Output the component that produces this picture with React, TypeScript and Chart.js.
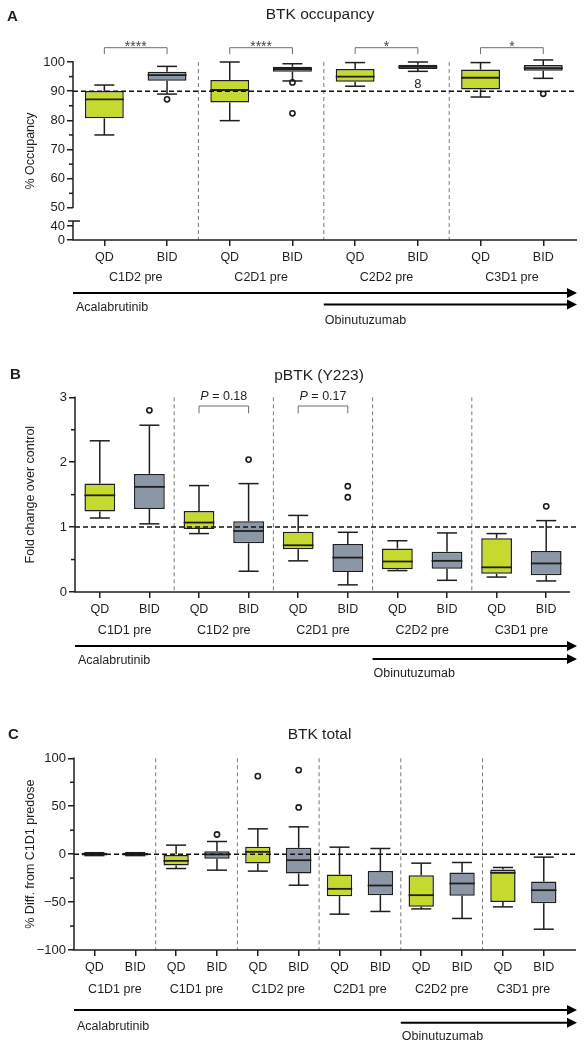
import React, { useEffect, useRef } from "react";
import { Chart, registerables } from "chart.js";

Chart.register(...registerables);

const FONT = "'Liberation Sans', Arial, Helvetica, sans-serif";
const GREEN = "#c6d92e";
const GRAY = "#8b96a6";
const INK = "#1e1e1e";
const W = 584;

// ---------- Panel A : BTK occupancy ----------
const A_LABELS = ["QD", "BID", "QD", "BID", "QD", "BID", "QD", "BID"];
const A_GROUPS = ["C1D2 pre", "C2D1 pre", "C2D2 pre", "C3D1 pre"];
const A_MIN = [75, 89.0, 79.9, 93.5, 91.7, 96.8, 88.0, 94.4];
const A_Q1 = [80.7, 93.6, 86.1, 96.7, 93.2, 97.6, 90.6, 97.0];
const A_MED = [87.2, 95.5, 90.4, 97.6, 95.0, 98.3, 94.6, 97.9];
const A_Q3 = [90.1, 96.7, 93.8, 98.4, 97.6, 99.1, 97.4, 99.0];
const A_MAX = [92.1, 98.5, 100, 99.4, 99.8, 100, 99.8, 100.7];
const A_OUTLIERS = [
  { x: 1, y: 87.2 },
  { x: 3, y: 93.0 },
  { x: 3, y: 82.4 },
  { x: 7, y: 89.1 },
];
const A_MARKS = [{ x: 5, y: 92.2, text: "8" }];
const A_TICK_VALUES = [39, 43.8, 50, 60, 70, 80, 90, 100];
const A_TICK_LABELS = ["0", "40", "50", "60", "70", "80", "90", "100"];
const A_MINOR = [55, 65, 75, 85, 95];
const A_BRACKETS = [
  { i: 0, j: 1, text: "****" },
  { i: 2, j: 3, text: "****" },
  { i: 4, j: 5, text: "*" },
  { i: 6, j: 7, text: "*" },
];

// ---------- Panel B : pBTK (Y223) ----------
const B_LABELS = ["QD", "BID", "QD", "BID", "QD", "BID", "QD", "BID", "QD", "BID"];
const B_GROUPS = ["C1D1 pre", "C1D2 pre", "C2D1 pre", "C2D2 pre", "C3D1 pre"];
const B_MIN = [1.14, 1.05, 0.9, 0.32, 0.48, 0.11, 0.33, 0.18, 0.23, 0.17];
const B_Q1 = [1.24, 1.28, 0.97, 0.75, 0.66, 0.31, 0.35, 0.36, 0.28, 0.26];
const B_MED = [1.49, 1.62, 1.07, 0.94, 0.72, 0.53, 0.47, 0.48, 0.38, 0.44];
const B_Q3 = [1.67, 1.82, 1.25, 1.09, 0.93, 0.74, 0.67, 0.62, 0.83, 0.63];
const B_MAX = [2.33, 2.57, 1.64, 1.67, 1.18, 0.92, 0.79, 0.91, 0.9, 1.1];
const B_OUTLIERS = [
  { x: 1, y: 2.8 },
  { x: 3, y: 2.04 },
  { x: 5, y: 1.63 },
  { x: 5, y: 1.46 },
  { x: 9, y: 1.32 },
];
const B_TICK_VALUES = [0, 1, 2, 3];
const B_TICK_LABELS = ["0", "1", "2", "3"];
const B_MINOR = [0.5, 1.5, 2.5];
const B_BRACKETS = [
  { i: 2, j: 3, text: "P = 0.18" },
  { i: 4, j: 5, text: "P = 0.17" },
];

// ---------- Panel C : BTK total ----------
const C_LABELS = ["QD", "BID", "QD", "BID", "QD", "BID", "QD", "BID", "QD", "BID", "QD", "BID"];
const C_GROUPS = ["C1D1 pre", "C1D1 pre", "C1D2 pre", "C2D1 pre", "C2D2 pre", "C3D1 pre"];
const C_MIN = [-1.5, -1.5, -15, -16.7, -17.7, -32.4, -62.6, -59.8, -57.1, -67.1, -55, -78.3];
const C_Q1 = [-1.5, -1.5, -11.8, -4.9, -9.7, -20.2, -43.8, -42.8, -55, -43.5, -49.8, -51.1];
const C_MED = [0, 0, -7, -0.3, 2.4, -6.3, -36.2, -32.7, -42.8, -30.6, -19.5, -37.6];
const C_Q3 = [1.5, 1.5, 0, 3.1, 7.6, 6.6, -21.2, -17.7, -21.9, -19.1, -16, -28.5];
const C_MAX = [1.5, 1.5, 9.4, 13.2, 26.4, 28.5, 7.3, 5.9, -9.4, -8.7, -13.9, -3.1];
const C_OUTLIERS = [
  { x: 3, y: 20.5 },
  { x: 4, y: 81.4 },
  { x: 5, y: 87.7 },
  { x: 5, y: 48.7 },
];
const C_TICK_VALUES = [-100, -50, 0, 50, 100];
const C_TICK_LABELS = ["\u2212100", "\u221250", "0", "50", "100"];
const C_MINOR = [-75, -25, 25, 75];

type Panel = {
  top: number;
  height: number;
  area: { left: number; right: number; top: number; bottom: number };
  labels: string[];
  groups: string[];
  min: number[];
  q1: number[];
  med: number[];
  q3: number[];
  max: number[];
  outliers: { x: number; y: number }[];
  marks: { x: number; y: number; text: string }[];
  yMin: number;
  yMax: number;
  tickValues: number[];
  tickLabels: string[];
  minor: number[];
  yBreak?: { upper: number; lower: number };
  ref: number;
  axisEnd: number;
  refEnd: number;
  letter: string;
  letterPos: [number, number];
  title: string;
  titlePos: [number, number];
  yTitle: string;
  groupY: number;
  aca: { y: number; textY: number };
  obi: { y: number; textY: number; group: number };
  brackets: { i: number; j: number; text: string }[];
  bracketTop: number;
  bracketArm: number;
};

const PANELS: Panel[] = [
  {
    top: 0,
    height: 340,
    area: { left: 73, right: 574.6, top: 62, bottom: 240 },
    labels: A_LABELS,
    groups: A_GROUPS,
    min: A_MIN,
    q1: A_Q1,
    med: A_MED,
    q3: A_Q3,
    max: A_MAX,
    outliers: A_OUTLIERS,
    marks: A_MARKS,
    yMin: 39,
    yMax: 100,
    tickValues: A_TICK_VALUES,
    tickLabels: A_TICK_LABELS,
    minor: A_MINOR,
    yBreak: { upper: 50, lower: 45.5 },
    ref: 90,
    axisEnd: 577,
    refEnd: 577,
    letter: "A",
    letterPos: [7, 16.5],
    title: "BTK occupancy",
    titlePos: [320, 15],
    yTitle: "% Occupancy",
    groupY: 278,
    aca: { y: 293, textY: 308 },
    obi: { y: 304.5, textY: 321, group: 2 },
    brackets: A_BRACKETS,
    bracketTop: 104.9,
    bracketArm: 102.7,
  },
  {
    top: 340,
    height: 350,
    area: { left: 75, right: 571, top: 57.3, bottom: 252 },
    labels: B_LABELS,
    groups: B_GROUPS,
    min: B_MIN,
    q1: B_Q1,
    med: B_MED,
    q3: B_Q3,
    max: B_MAX,
    outliers: B_OUTLIERS,
    marks: [],
    yMin: 0,
    yMax: 3,
    tickValues: B_TICK_VALUES,
    tickLabels: B_TICK_LABELS,
    minor: B_MINOR,
    ref: 1,
    axisEnd: 570,
    refEnd: 577,
    letter: "B",
    letterPos: [10, 35],
    title: "pBTK (Y223)",
    titlePos: [319, 36],
    yTitle: "Fold change over control",
    groupY: 291,
    aca: { y: 306, textY: 320.7 },
    obi: { y: 319, textY: 334, group: 3 },
    brackets: B_BRACKETS,
    bracketTop: 2.866,
    bracketArm: 2.753,
  },
  {
    top: 690,
    height: 360,
    area: { left: 74, right: 564.2, top: 68.3, bottom: 260 },
    labels: C_LABELS,
    groups: C_GROUPS,
    min: C_MIN,
    q1: C_Q1,
    med: C_MED,
    q3: C_Q3,
    max: C_MAX,
    outliers: C_OUTLIERS,
    marks: [],
    yMin: -100,
    yMax: 100,
    tickValues: C_TICK_VALUES,
    tickLabels: C_TICK_LABELS,
    minor: C_MINOR,
    ref: 0,
    axisEnd: 576,
    refEnd: 577,
    letter: "C",
    letterPos: [8, 45],
    title: "BTK total",
    titlePos: [319.5, 45],
    yTitle: "% Diff. from C1D1 predose",
    groupY: 300,
    aca: { y: 320, textY: 336.7 },
    obi: { y: 332.7, textY: 347, group: 4 },
    brackets: [],
    bracketTop: 0,
    bracketArm: 0,
  },
];

const CAP = 20;
const ARROW_TIP = 577;

function makePlugin(p: Panel) {
  return {
    id: "boxplotExtras",
    beforeDatasetsDraw(chart: any) {
      const { ctx, chartArea: ca, scales } = chart;
      const x = scales.x;
      ctx.save();
      ctx.strokeStyle = "#7a7a7a";
      ctx.lineWidth = 1;
      ctx.setLineDash([4, 3]);
      for (let g = 1; g < p.groups.length; g++) {
        const px = (x.getPixelForValue(2 * g - 1) + x.getPixelForValue(2 * g)) / 2;
        ctx.beginPath();
        ctx.moveTo(px, ca.top);
        ctx.lineTo(px, ca.bottom);
        ctx.stroke();
      }
      ctx.restore();
    },
    afterDatasetsDraw(chart: any) {
      const { ctx, chartArea: ca, scales } = chart;
      const x = scales.x;
      const y = scales.y;
      const meta = chart.getDatasetMeta(0);
      const line = (x0: number, y0: number, x1: number, y1: number) => {
        ctx.beginPath();
        ctx.moveTo(x0, y0);
        ctx.lineTo(x1, y1);
        ctx.stroke();
      };
      const text = (
        s: string,
        tx: number,
        ty: number,
        size = 12.5,
        align: CanvasTextAlign = "center",
        weight = "normal",
        style = "normal",
        color = INK
      ) => {
        ctx.font = `${style} ${weight} ${size}px ${FONT}`;
        ctx.textAlign = align;
        ctx.textBaseline = "middle";
        ctx.fillStyle = color;
        ctx.fillText(s, tx, ty);
      };
      ctx.save();
      ctx.setLineDash([]);
      ctx.strokeStyle = INK;

      // whiskers, caps, medians
      p.med.forEach((m, i) => {
        const bar = meta.data[i];
        const cx = bar.x;
        const hw = bar.width / 2;
        const yq1 = y.getPixelForValue(p.q1[i]);
        const yq3 = y.getPixelForValue(p.q3[i]);
        const ymin = y.getPixelForValue(p.min[i]);
        const ymax = y.getPixelForValue(p.max[i]);
        const ymed = y.getPixelForValue(m);
        ctx.lineWidth = 1.5;
        line(cx, yq3, cx, ymax);
        line(cx, yq1, cx, ymin);
        line(cx - CAP / 2, ymax, cx + CAP / 2, ymax);
        line(cx - CAP / 2, ymin, cx + CAP / 2, ymin);
        ctx.lineWidth = 1.8;
        line(cx - hw, ymed, cx + hw, ymed);
      });

      // text marks (overlapping outliers)
      p.marks.forEach((mk) => {
        text(mk.text, x.getPixelForValue(mk.x), y.getPixelForValue(mk.y), 13);
      });

      // reference dashed line
      ctx.save();
      ctx.strokeStyle = "#111";
      ctx.lineWidth = 1.5;
      ctx.setLineDash([5, 3]);
      const yr = y.getPixelForValue(p.ref);
      line(ca.left, yr, p.refEnd, yr);
      ctx.restore();

      // axes
      ctx.lineWidth = 1.5;
      ctx.strokeStyle = INK;
      line(ca.left - 0.75, ca.bottom, p.axisEnd, ca.bottom);
      if (p.yBreak) {
        const yu = y.getPixelForValue(p.yBreak.upper);
        const yl = y.getPixelForValue(p.yBreak.lower);
        line(ca.left, ca.top - 0.75, ca.left, yu);
        line(ca.left, yl, ca.left, ca.bottom);
        line(ca.left - 5, yl, ca.left + 7, yl);
      } else {
        line(ca.left, ca.top - 0.75, ca.left, ca.bottom);
      }
      p.minor.forEach((v) => {
        const yy = y.getPixelForValue(v);
        line(ca.left - 4, yy, ca.left, yy);
      });

      // significance brackets
      p.brackets.forEach((b) => {
        const x0 = x.getPixelForValue(b.i);
        const x1 = x.getPixelForValue(b.j);
        const yt = y.getPixelForValue(p.bracketTop);
        const ya = y.getPixelForValue(p.bracketArm);
        ctx.strokeStyle = "#6e6e6e";
        ctx.lineWidth = 1;
        ctx.beginPath();
        ctx.moveTo(x0, ya);
        ctx.lineTo(x0, yt);
        ctx.lineTo(x1, yt);
        ctx.lineTo(x1, ya);
        ctx.stroke();
        const mid = (x0 + x1) / 2;
        if (b.text.startsWith("P ")) {
          const rest = b.text.slice(1);
          ctx.font = `italic normal 12.5px ${FONT}`;
          const wP = ctx.measureText("P").width;
          ctx.font = `normal normal 12.5px ${FONT}`;
          const wR = ctx.measureText(rest).width;
          const start = mid - (wP + wR) / 2;
          text("P", start, yt - 9.5, 12.5, "left", "normal", "italic");
          text(rest, start + wP, yt - 9.5, 12.5, "left");
        } else {
          ctx.font = `normal normal 14px ${FONT}`;
          ctx.textAlign = "center";
          ctx.textBaseline = "alphabetic";
          ctx.fillStyle = "#444";
          ctx.fillText(b.text, mid, yt + 3);
        }
      });

      // group labels
      p.groups.forEach((g, k) => {
        const gx = (x.getPixelForValue(2 * k) + x.getPixelForValue(2 * k + 1)) / 2;
        text(g, gx, p.groupY, 12.5);
      });

      // treatment arrows
      const arrow = (x0: number, yy: number) => {
        ctx.strokeStyle = "#000";
        ctx.fillStyle = "#000";
        ctx.lineWidth = 2;
        line(x0, yy, ARROW_TIP - 8, yy);
        ctx.beginPath();
        ctx.moveTo(ARROW_TIP, yy);
        ctx.lineTo(ARROW_TIP - 10, yy - 5);
        ctx.lineTo(ARROW_TIP - 10, yy + 5);
        ctx.closePath();
        ctx.fill();
      };
      arrow(ca.left, p.aca.y);
      text("Acalabrutinib", ca.left + 3, p.aca.textY, 12.5, "left");
      const og = p.obi.group;
      const ox = (x.getPixelForValue(2 * og - 1) + x.getPixelForValue(2 * og)) / 2;
      arrow(ox, p.obi.y);
      text("Obinutuzumab", ox + 1, p.obi.textY, 12.5, "left");

      // letter and title
      text(p.letter, p.letterPos[0], p.letterPos[1], 15, "left", "bold");
      text(p.title, p.titlePos[0], p.titlePos[1], 15.5);

      ctx.restore();
    },
  };
}

function buildChart(canvas: HTMLCanvasElement, p: Panel) {
  const colors = p.labels.map((l) => (l === "QD" ? GREEN : GRAY));
  return new Chart(canvas, {
    type: "bar",
    data: {
      labels: p.labels,
      datasets: [
        {
          type: "bar",
          data: p.q1.map((v, i) => [v, p.q3[i]]),
          backgroundColor: colors,
          borderColor: INK,
          borderWidth: 1.5,
          borderSkipped: false,
          barPercentage: 0.62,
          categoryPercentage: 1,
          order: 2,
        } as any,
        {
          type: "scatter",
          parsing: false,
          data: p.outliers.map((o) => ({ x: o.x, y: o.y })),
          pointRadius: 2.6,
          pointBorderWidth: 1.6,
          pointBackgroundColor: "#fff",
          pointBorderColor: INK,
          order: 1,
        } as any,
      ],
    },
    options: {
      responsive: false,
      animation: false,
      devicePixelRatio: 1,
      events: [],
      layout: {
        padding: { left: 0, top: p.area.top, right: W - p.area.right, bottom: 0 },
      },
      plugins: {
        legend: { display: false },
        tooltip: { enabled: false },
      },
      scales: {
        x: {
          type: "category",
          offset: true,
          grid: {
            offset: false,
            drawOnChartArea: false,
            drawTicks: true,
            tickLength: 6,
            color: INK,
            lineWidth: 1.5,
          },
          border: { display: false },
          ticks: {
            autoSkip: false,
            maxRotation: 0,
            minRotation: 0,
            padding: 4.5,
            color: INK,
            font: { family: FONT, size: 12.5 },
          },
          afterFit: (s: any) => {
            s.height = p.height - p.area.bottom;
          },
        },
        y: {
          type: "linear",
          min: p.yMin,
          max: p.yMax,
          grid: {
            drawOnChartArea: false,
            drawTicks: true,
            tickLength: 6,
            color: INK,
            lineWidth: 1.5,
          },
          border: { display: false },
          ticks: {
            padding: 2,
            color: INK,
            font: { family: FONT, size: 13 },
            callback: (_v: any, idx: number) => p.tickLabels[idx],
          },
          afterBuildTicks: (s: any) => {
            s.ticks = p.tickValues.map((v) => ({ value: v }));
          },
          afterFit: (s: any) => {
            s.width = p.area.left;
          },
          title: {
            display: true,
            text: p.yTitle,
            color: INK,
            font: { family: FONT, size: 12.5 },
            padding: { top: 23.5, bottom: 0 },
          },
        },
      },
    } as any,
    plugins: [makePlugin(p)],
  });
}

export default function App() {
  const canvases = useRef<(HTMLCanvasElement | null)[]>([]);
  useEffect(() => {
    const charts = PANELS.map((p, k) => buildChart(canvases.current[k] as HTMLCanvasElement, p));
    return () => charts.forEach((c) => c.destroy());
  }, []);
  return (
    <div
      style={{
        position: "absolute",
        left: 0,
        top: 0,
        width: W,
        height: 1050,
        background: "#fff",
      }}
    >
      {PANELS.map((p, k) => (
        <canvas
          key={k}
          ref={(el) => {
            canvases.current[k] = el;
          }}
          width={W}
          height={p.height}
          style={{ position: "absolute", left: 0, top: p.top, width: W, height: p.height, display: "block" }}
        />
      ))}
    </div>
  );
}
